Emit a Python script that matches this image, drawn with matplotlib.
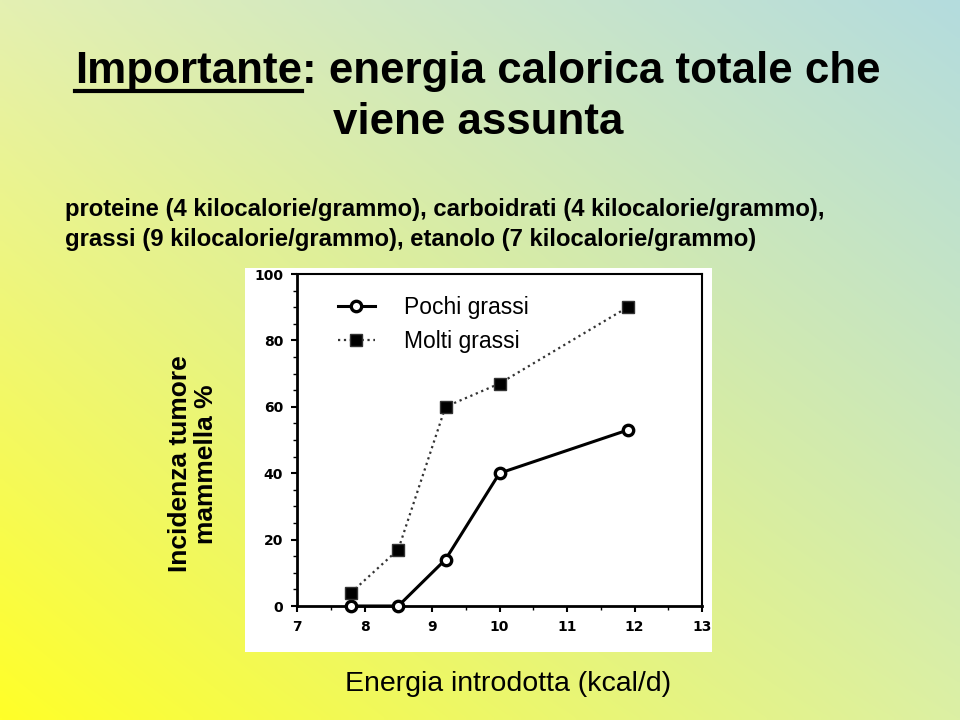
import numpy as np
import matplotlib
matplotlib.use("Agg")
import matplotlib.pyplot as plt
from matplotlib.patches import Rectangle
from matplotlib.lines import Line2D

plt.rcParams["font.family"] = ["Liberation Sans", "DejaVu Sans"]

# data
energy_low = [7.8, 8.5, 9.2, 10.0, 11.9]
incid_low = [0, 0, 14, 40, 53]
energy_high = [7.8, 8.5, 9.2, 10.0, 11.9]
incid_high = [4, 17, 60, 67, 90]
series_labels = ["Pochi grassi", "Molti grassi"]
x_ticks = [7, 8, 9, 10, 11, 12, 13]
y_ticks = [0, 20, 40, 60, 80, 100]

W, H = 960, 720
fig = plt.figure(figsize=(W / 100, H / 100), dpi=100)

# background gradient (yellow bottom-left -> light blue top-right)
bg = fig.add_axes([0, 0, 1, 1], zorder=-10)
tl = np.array([228, 240, 178]) / 255
tr = np.array([180, 220, 222]) / 255
bl = np.array([255, 255, 40]) / 255
br = np.array([220, 240, 164]) / 255
u = np.linspace(0, 1, 200)[None, :, None]
v = np.linspace(0, 1, 150)[:, None, None]
grad = (1 - v) * ((1 - u) * tl + u * tr) + v * ((1 - u) * bl + u * br)
bg.imshow(grad, aspect="auto", extent=[0, 1, 0, 1], interpolation="bilinear")
bg.set_axis_off()

def fx(px):
    return px / W

def fy(py):
    return 1 - py / H

# white picture box behind the chart
fig.patches.append(Rectangle((fx(245), fy(652)), fx(712) - fx(245), fy(268) - fy(652),
                             transform=fig.transFigure, facecolor="white",
                             edgecolor="none", zorder=-5))

# title with underlined first word
TS = 31.6
t1 = fig.text(fx(75), fy(83), "Importante", fontsize=TS, fontweight="bold", va="baseline")
fig.canvas.draw()
r = fig.canvas.get_renderer()
bb = t1.get_window_extent(r)
fig.text(bb.x1 / W, fy(83), ": energia calorica totale che", fontsize=TS,
         fontweight="bold", va="baseline")
fig.add_artist(Line2D([bb.x0 / W, bb.x1 / W], [fy(91), fy(91)], color="black", lw=3,
                      transform=fig.transFigure))
fig.text(fx(478), fy(134), "viene assunta", fontsize=TS, fontweight="bold",
         va="baseline", ha="center")

fig.text(fx(65), fy(216), "proteine (4 kilocalorie/grammo), carboidrati (4 kilocalorie/grammo),",
         fontsize=17.2, fontweight="bold", va="baseline")
fig.text(fx(65), fy(246), "grassi (9 kilocalorie/grammo), etanolo (7 kilocalorie/grammo)",
         fontsize=17.2, fontweight="bold", va="baseline")

# chart
ax = fig.add_axes([fx(297), fy(606), fx(702) - fx(297), fy(274) - fy(606)])
ax.set_facecolor("white")
ax.plot(energy_low, incid_low, "-", color="black", lw=2.2, marker="o", ms=7.5,
        mfc="white", mec="black", mew=2.4, label=series_labels[0], clip_on=False, zorder=3)
ax.plot(energy_high, incid_high, ":", color="#333333", lw=1.6, marker="s", ms=8,
        mfc="black", mec="#333333", mew=1, label=series_labels[1], clip_on=False, zorder=3)

ax.set_xlim(7, 13)
ax.set_ylim(0, 100)
ax.set_xticks(x_ticks)
ax.set_yticks(y_ticks)
ax.set_xticks(np.arange(7.5, 13, 1), minor=True)
ax.set_yticks([v for v in range(5, 100, 5) if v % 20], minor=True)
ax.tick_params(which="major", direction="out", length=4, width=1.5,
               labelsize=10, pad=6)
ax.tick_params(which="minor", direction="out", length=3, width=1)
for lab in ax.get_xticklabels() + ax.get_yticklabels():
    lab.set_fontweight("bold")
    lab.set_family("DejaVu Sans")
for s in ["left", "bottom"]:
    ax.spines[s].set_linewidth(2)
for s in ["top", "right"]:
    ax.spines[s].set_linewidth(1.5)

ax.legend(loc="upper left", bbox_to_anchor=(0.05, 0.995), frameon=False, fontsize=16.5,
          handlelength=1.6, handletextpad=1.3, labelspacing=0.45)

fig.text(fx(193), fy(464), "Incidenza tumore\nmammella %", rotation=90, fontsize=19,
         fontweight="bold", ha="center", va="center", multialignment="center",
         linespacing=1.1)
fig.text(fx(508), fy(684), "Energia introdotta (kcal/d)", fontsize=20.5,
         ha="center", va="center")

fig.savefig("out.png", dpi=100)
